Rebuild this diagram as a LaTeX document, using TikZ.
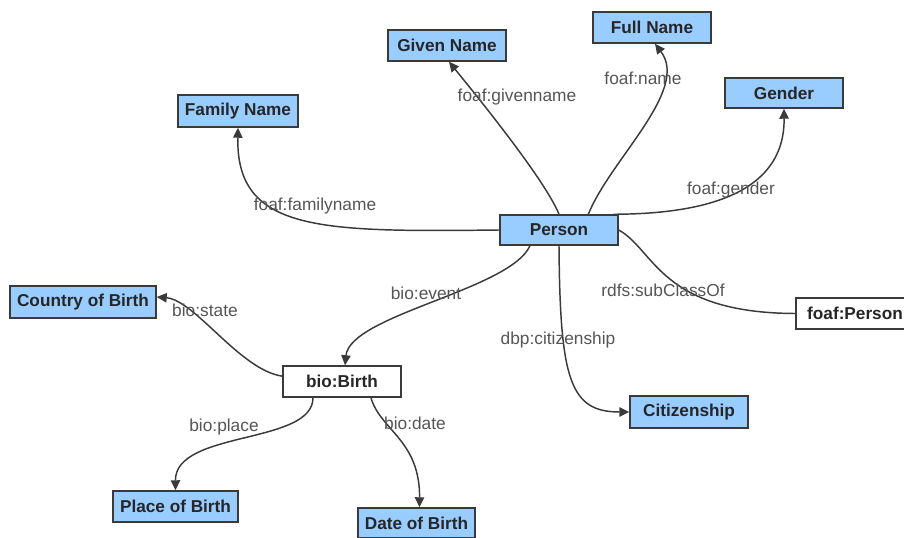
\documentclass[tikz,border=0pt]{standalone}
\usepackage{fontspec}
\setmainfont{Liberation Sans}
\usetikzlibrary{arrows.meta}
\definecolor{boxblue}{HTML}{99CCFF}
\definecolor{linegray}{HTML}{3A3A3A}
\definecolor{labelgray}{HTML}{555555}
\begin{document}
\begin{tikzpicture}[x=0.75pt,y=-0.75pt,
  box/.style={draw=linegray,line width=1.1pt,fill=boxblue,minimum width=88.5pt,minimum height=23.25pt,inner sep=0pt,font=\fontsize{12.9pt}{14pt}\selectfont\bfseries,text=black!85},
  whitebox/.style={box,fill=white},
  elabel/.style={font=\fontsize{13pt}{14pt}\selectfont,text=labelgray,inner sep=0pt},
  link/.style={draw=linegray,line width=1.1pt},
  arr/.style={link,-{Triangle[length=7.5pt,width=7pt]}}]
\useasboundingbox (0,0) rectangle (904,538);
% nodes
\node[box,minimum width=90pt,minimum height=24pt] (fam) at (238,111) {Family Name};
\node[box] (given) at (447,45.5) {Given Name};
\node[box] (full) at (652,27.5) {Full Name};
\node[box,minimum height=22.5pt] (gender) at (784,93) {Gender};
\node[box,minimum height=22.5pt] (person) at (559,230) {Person};
\node[box,minimum width=109.5pt,minimum height=24pt] (country) at (83,302) {Country of Birth};
\node[whitebox] (birth) at (342,381.5) {bio:Birth};
\node[box,minimum width=93.75pt] (place) at (175.5,506.5) {Place of Birth};
\node[box,minimum width=87.75pt,minimum height=22.5pt] (date) at (416.5,523) {Date of Birth};
\node[box,minimum height=24pt] (citizen) at (689,412) {Citizenship};
\node[whitebox] (fperson) at (855,313.5) {foaf:Person};
% connectors
\draw[arr] (person.west) .. controls (320,232) and (236,232) .. (fam.south);
\draw[arr] (person.north) .. controls (545,180) and (480,100) .. ([xshift=1.5pt]given.south);
\draw[arr] ([xshift=22pt]person.north) .. controls (610,160) and (690,90) .. ([xshift=2.25pt]full.south);
\draw[arr] ([xshift=-4pt]person.north east) .. controls (690,214) and (785,200) .. (gender.south);
\draw[link] (person.east) .. controls (655,250) and (660,313) .. (fperson.west);
\draw[arr] ([xshift=-21.75pt]person.south) .. controls (510,290) and (350,315) .. ([xshift=2.25pt]birth.north);
\draw[arr] (person.south) .. controls (560,380) and (570,412) .. (citizen.west);
\draw[arr] ([yshift=4pt]birth.west) .. controls (240,370) and (195,300) .. ([yshift=3.75pt]country.east);
\draw[arr] ([xshift=-21.75pt]birth.south) .. controls (313,445) and (175,430) .. (place.north);
\draw[arr] ([xshift=21.75pt]birth.south) .. controls (380,430) and (420,440) .. ([xshift=2.25pt]date.north);
% labels
\node[elabel] (lfam) at (315,206) {foaf:familyname};
\node[elabel] (lgiven) at (517,97) {foaf:givenname};
\node[elabel] (lfull) at (643,78) {foaf:name};
\node[elabel] (lgender) at (731,190) {foaf:gender};
\node[elabel] (lsub) at (663,290) {rdfs:subClassOf};
\node[elabel] (levent) at (426,293) {bio:event};
\node[elabel] (lcit) at (558,340) {dbp:citizenship};
\node[elabel] (lstate) at (205,310) {bio:state};
\node[elabel] (lplace) at (224,427) {bio:place};
\node[elabel] (ldate) at (415,423) {bio:date};
\end{tikzpicture}
\end{document}
